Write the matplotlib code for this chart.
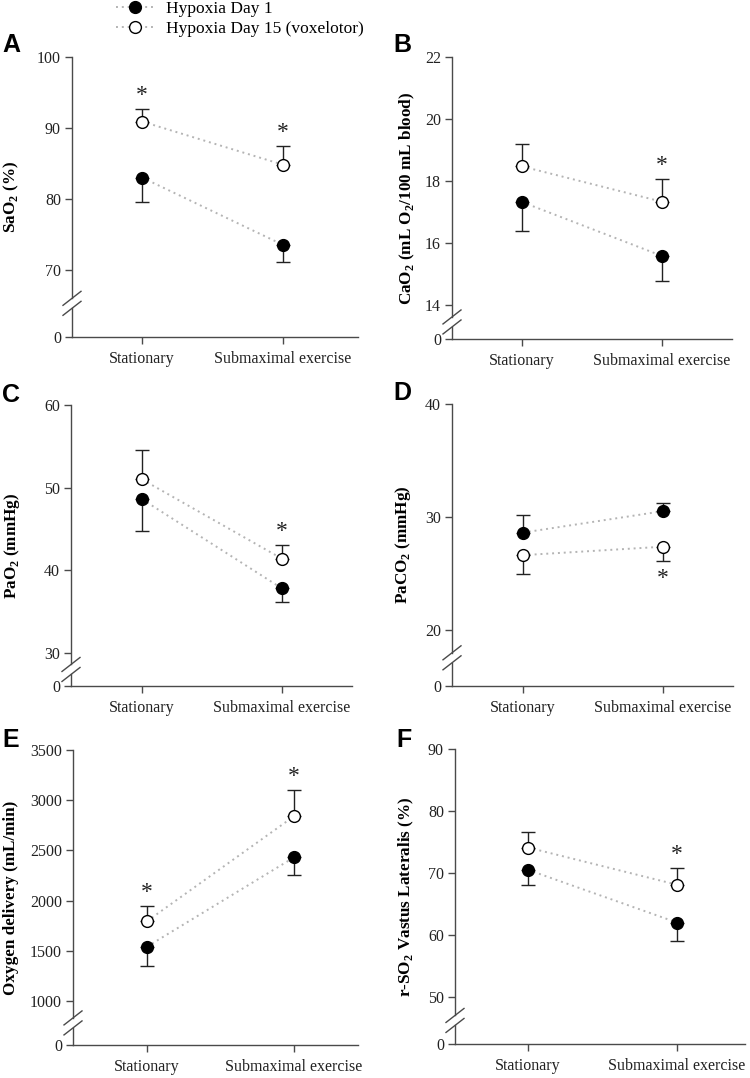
import matplotlib
matplotlib.use("Agg")
import matplotlib.pyplot as plt
from matplotlib.lines import Line2D
import numpy as np

plt.rcParams['font.family'] = ['Liberation Serif', 'DejaVu Serif']
plt.rcParams['mathtext.fontset'] = 'custom'
plt.rcParams['mathtext.rm'] = 'Liberation Serif'
plt.rcParams['mathtext.bf'] = 'Liberation Serif:bold'

conditions = ["Stationary", "Submaximal exercise"]
series_names = ["Hypoxia Day 1", "Hypoxia Day 15 (voxelotor)"]
panel_letters = ["A", "B", "C", "D", "E", "F"]
ylabels = [r"SaO$_\mathbf{2}$ (%)",
           r"CaO$_\mathbf{2}$ (mL O$_\mathbf{2}$/100 mL blood)",
           r"PaO$_\mathbf{2}$ (mmHg)",
           r"PaCO$_\mathbf{2}$ (mmHg)",
           "Oxygen delivery (mL/min)",
           r"r-SO$_\mathbf{2}$ Vastus Lateralis (%)"]

# means and SE, [stationary, submaximal]
day1 = [[83.0, 73.5], [17.32, 15.58], [48.6, 37.8], [28.6, 30.5], [1540, 2430], [70.5, 62.0]]
day1_err = [[3.5, 2.45], [0.92, 0.82], [3.8, 1.6], [1.6, 0.7], [190, 172], [2.5, 3.0]]
day15 = [[90.9, 84.8], [18.47, 17.33], [51.0, 41.4], [26.6, 27.35], [1794, 2840], [74.1, 68.1]]
day15_err = [[1.8, 2.7], [0.71, 0.73], [3.5, 1.7], [1.7, 1.25], [153, 260], [2.5, 2.7]]
significant = [[True, True], [False, True], [False, True], [False, True], [True, True], [False, True]]

# y-axis: lowest tick above the break, top, step
y_low = [70, 14, 30, 20, 1000, 50]
y_top = [100, 22, 60, 40, 3500, 90]
y_step = [10, 2, 10, 10, 500, 10]
y_gap = [9.5, 1.1, 4, 5, 440, 7.6]

# pixel layout: left, right, top, bottom, stationary x, submax x, ylabel x
W, H = 750, 1078
layout = [(72, 358, 57, 337, 142, 283, 11),
          (452, 732, 57, 339, 522, 662, 407),
          (71, 352, 405, 686, 142, 282, 12),
          (452, 733, 404, 686, 523, 663, 403),
          (73, 358, 750, 1045, 147, 294, 11),
          (455, 745, 749, 1044, 528, 677, 406)]
letter_pos = [(2, 52), (393, 52), (2, 402), (393, 400), (2, 747), (396, 747)]

axis_col = "#4a4a4a"
line_col = "#b4b4b4"

fig = plt.figure(figsize=(W / 100, H / 100), dpi=100)

for i in range(6):
    left, right, top, bottom, xs, xe, ylx = layout[i]
    ax = fig.add_axes([left / W, 1 - bottom / H, (right - left) / W, (bottom - top) / H])
    x = np.arange(2)
    ax.set_xlim((left - xs) / (xe - xs), (right - xs) / (xe - xs))
    y0 = y_low[i] - y_gap[i]
    ax.set_ylim(y0, y_top[i])

    d1 = np.array(day1[i])
    d15 = np.array(day15[i])
    e1 = np.array(day1_err[i])
    e15 = np.array(day15_err[i])
    up15 = d15.mean() > d1.mean()

    for vals, errs, up, face in [(d1, e1, not up15, "black"), (d15, e15, up15, "white")]:
        ax.plot(x, vals, linestyle=(0, (1, 2)), color=line_col, lw=1.4, zorder=1)
        zero = np.zeros(2)
        yerr = [zero, errs] if up else [errs, zero]
        ax.errorbar(x, vals, yerr=yerr, fmt="none", ecolor="#222222", elinewidth=1,
                    capsize=5, capthick=1, zorder=2)
        ax.plot(x, vals, "o", ms=8.5, mfc=face, mec="black", mew=1, zorder=3)

    for j in range(2):
        if significant[i][j]:
            if up15:
                ax.annotate("*", xy=(x[j], d15[j] + e15[j]), xytext=(0, 2),
                            textcoords="offset points", ha="center", va="bottom",
                            fontsize=17, color="#222222")
            else:
                ax.annotate("*", xy=(x[j], d15[j] - e15[j]), xytext=(0, -5),
                            textcoords="offset points", ha="center", va="top",
                            fontsize=17, color="#222222")

    ticks = [y0] + list(np.arange(y_low[i], y_top[i] + y_step[i] / 2, y_step[i]))
    labels = ["0"] + ["%g" % t for t in ticks[1:]]
    ax.set_yticks(ticks)
    ax.set_yticklabels(labels)
    ax.set_xticks(x)
    ax.set_xticklabels(conditions)
    ax.tick_params(axis="both", direction="out", length=5, width=1, color=axis_col,
                   labelsize=11.5, labelcolor="#222222")
    ax.tick_params(axis="y", pad=3)
    ax.tick_params(axis="x", pad=5)

    for s in ["top", "right", "left"]:
        ax.spines[s].set_visible(False)
    ax.spines["bottom"].set_color(axis_col)
    ax.spines["bottom"].set_linewidth(1)

    # broken left spine with slashes
    hpx = bottom - top
    yb = (y_low[i] - y_gap[i] / 2 - y0) / (y_top[i] - y0)
    g = 5 / hpx
    ax.plot([0, 0], [0, yb - g], color=axis_col, lw=1, transform=ax.transAxes, clip_on=False)
    ax.plot([0, 0], [yb + g, 1], color=axis_col, lw=1, transform=ax.transAxes, clip_on=False)
    wx = 9 / (right - left)
    hy = 7 / hpx
    for off in (-g, g):
        ax.plot([-wx, wx], [yb + off - hy, yb + off + hy], color=axis_col, lw=1,
                transform=ax.transAxes, clip_on=False)

    ax.set_ylabel(ylabels[i], fontsize=12.3, fontweight="bold", va="center")
    ax.yaxis.set_label_coords((ylx - left) / (right - left), 0.5)

    lx, ly = letter_pos[i]
    fig.text(lx / W, 1 - ly / H, panel_letters[i], fontsize=18, fontweight="bold",
             family="Liberation Sans", ha="left", va="baseline")

handles = [Line2D([], [], linestyle=(0, (1, 2)), color=line_col, lw=1.4, marker="o", ms=8.5,
                  mfc=face, mec="black", mew=1) for face in ["black", "white"]]
fig.legend(handles, series_names, loc="upper left", bbox_to_anchor=(116 / W, 1.0 - 1 / H),
           frameon=False, fontsize=12.5, handlelength=2.2, handletextpad=0.7,
           labelspacing=0.2, borderpad=0, borderaxespad=0)

fig.savefig("out.png", dpi=100)
